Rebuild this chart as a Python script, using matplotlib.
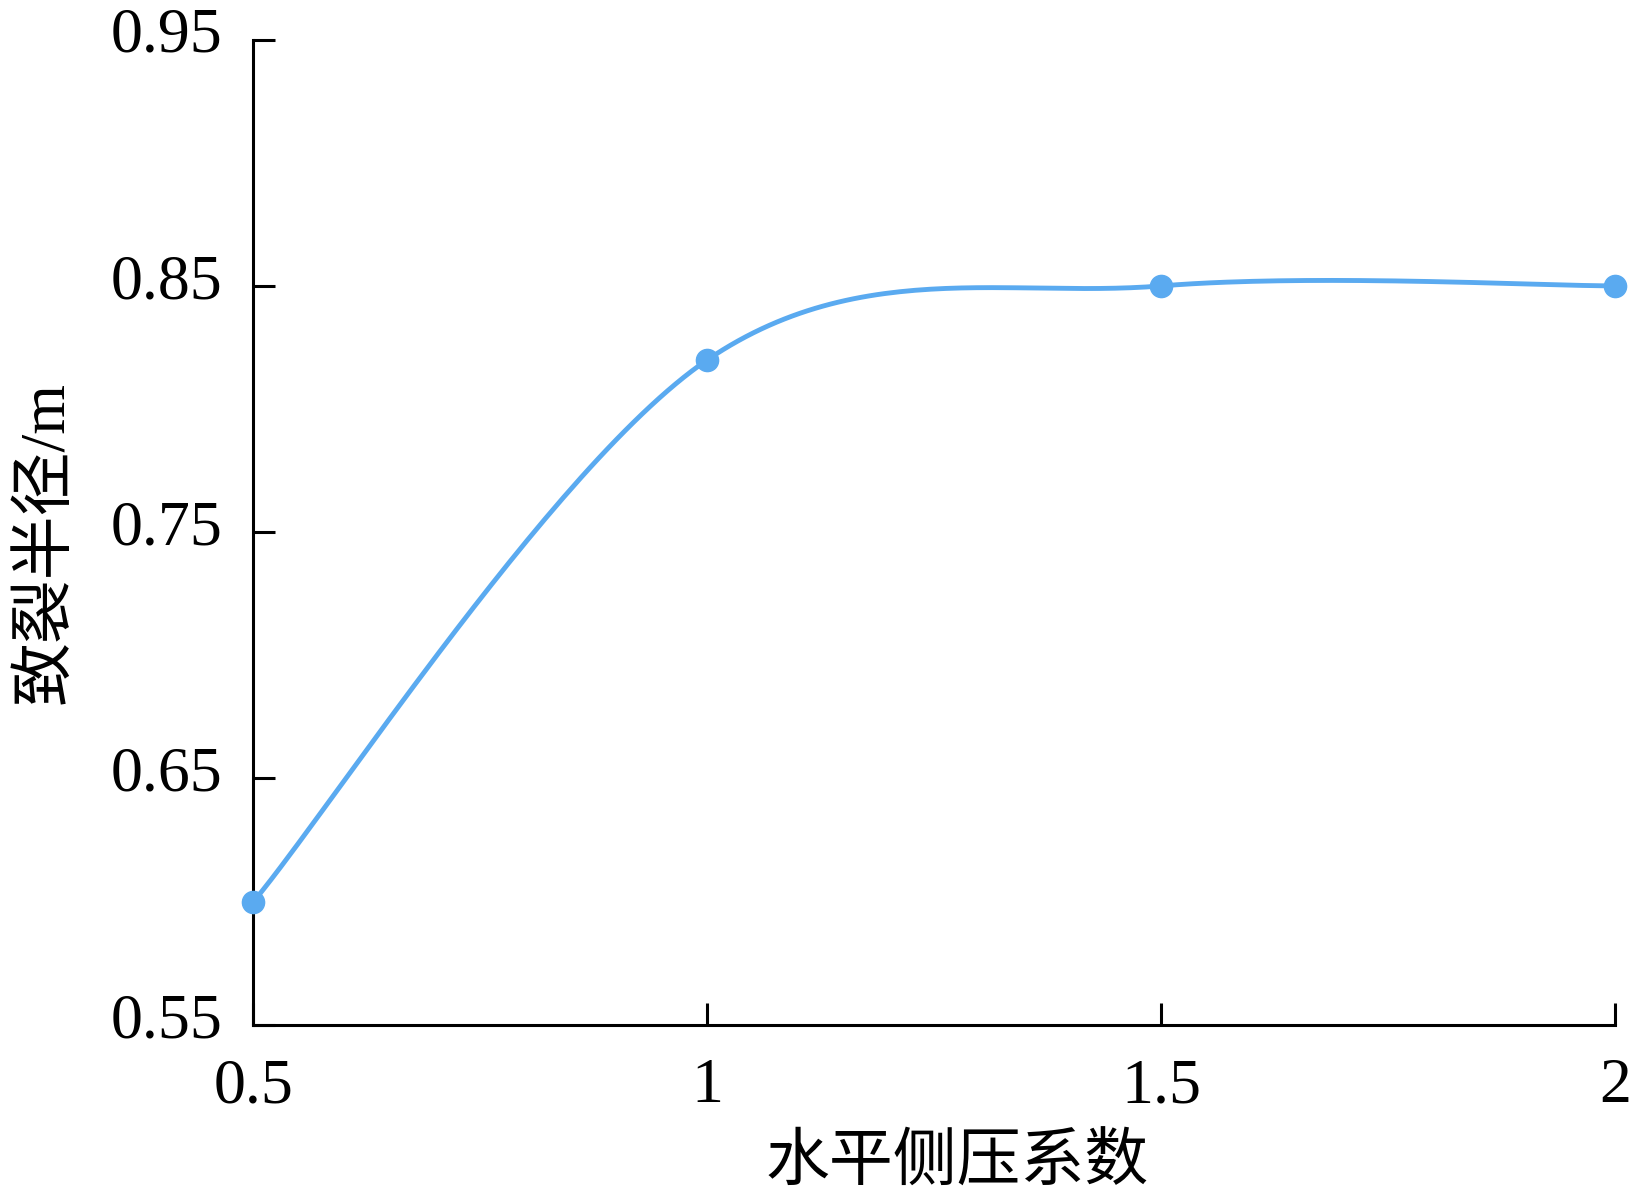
import numpy as np
import matplotlib.pyplot as plt
import matplotlib
import matplotlib.transforms as mtransforms

matplotlib.rcParams['font.family'] = ['Liberation Serif', 'Noto Sans CJK SC']
matplotlib.rcParams['axes.unicode_minus'] = False

x = [0.5, 1, 1.5, 2]
y = [0.60, 0.82, 0.85, 0.85]
xticks = [0.5, 1, 1.5, 2]
xticklabels = ['0.5', '1', '1.5', '2']
yticks = [0.55, 0.65, 0.75, 0.85, 0.95]
yticklabels = ['0.55', '0.65', '0.75', '0.85', '0.95']
color = '#5AAAF0'


# smoothed line like Excel (Catmull-Rom style Bezier through the points)
def smooth(px, py, n=60):
    p = np.column_stack([px, py]).astype(float)
    out = []
    for i in range(len(p) - 1):
        p0 = p[i - 1] if i > 0 else p[i]
        p1 = p[i]
        p2 = p[i + 1]
        p3 = p[i + 2] if i + 2 < len(p) else p[i + 1]
        c1 = p1 + (p2 - p0) / 6
        c2 = p2 - (p3 - p1) / 6
        t = np.linspace(0, 1, n)[:, None]
        seg = ((1 - t) ** 3) * p1 + 3 * ((1 - t) ** 2) * t * c1 + 3 * (1 - t) * t ** 2 * c2 + t ** 3 * p2
        out.append(seg if i == 0 else seg[1:])
    seg = np.vstack(out)
    return seg[:, 0], seg[:, 1]


sx, sy = smooth(x, y)

fig = plt.figure(figsize=(16.35, 12), dpi=100)
ax = fig.add_axes([0.155, 0.146, 0.833, 0.821])
ax.plot(sx, sy, color=color, lw=3.5, clip_on=False, zorder=3)
ax.plot(x, y, 'o', color=color, ms=16, clip_on=False, zorder=4)

ax.set_xlim(0.5, 2)
ax.set_ylim(0.55, 0.95)
ax.set_xticks(xticks)
ax.set_xticklabels(xticklabels)
ax.set_yticks(yticks)
ax.set_yticklabels(yticklabels)

for s in ['top', 'right']:
    ax.spines[s].set_visible(False)
for s in ['left', 'bottom']:
    ax.spines[s].set_linewidth(2.2)
ax.tick_params(direction='in', length=16, width=2.2, labelsize=46)
ax.tick_params(axis='y', pad=22)
ax.tick_params(axis='x', pad=24)

# y tick labels sit a little above their ticks in the reference
off = mtransforms.ScaledTranslation(0, 7 / 72, fig.dpi_scale_trans)
for lab in ax.get_yticklabels():
    lab.set_transform(lab.get_transform() + off)

ax.set_xlabel('水平侧压系数', fontsize=46)
ax.set_ylabel('致裂半径/m', fontsize=46)
ax.xaxis.set_label_coords(0.517, -0.112)
ax.yaxis.set_label_coords(-0.13, 0.49)

plt.savefig('out.png', dpi=100)
